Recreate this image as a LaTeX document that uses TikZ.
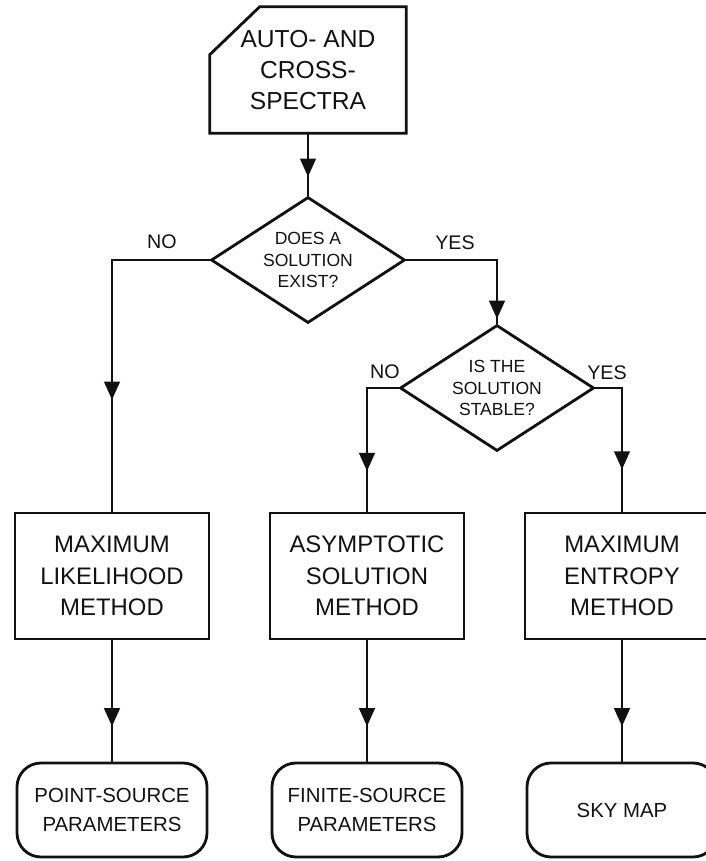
\documentclass[tikz,border=0pt]{standalone}
\usepackage{fontspec}
\setmainfont{Liberation Sans}
\usetikzlibrary{shapes.geometric, arrows.meta, decorations.markings}
\definecolor{chartink}{HTML}{111111}
\tikzset{
  flow line/.style={draw=chartink, line width=2pt},
  mid arrow/.style={postaction={decorate, decoration={markings,
    mark=at position #1 with {\arrow{Triangle[length=13pt, width=11pt]}}}}},
  input card/.style={minimum width=4.9cm, minimum height=3.15cm,
    align=center, text=chartink, font=\fontsize{17.5}{22}\selectfont},
  decision/.style={diamond, aspect=1.54, draw=chartink, line width=2pt,
    minimum width=4.85cm, minimum height=3.15cm, inner sep=0pt,
    align=center, text=chartink, font=\fontsize{12.5}{15.5}\selectfont},
  method box/.style={draw=chartink, line width=2pt, minimum width=4.85cm,
    minimum height=3.15cm, inner sep=0pt, align=center, text=chartink,
    font=\fontsize{17}{22.5}\selectfont},
  result box/.style={draw=chartink, line width=2pt, rounded corners=0.6cm,
    minimum width=4.75cm, minimum height=2.35cm, inner sep=0pt,
    align=center, text=chartink, font=\fontsize{14.5}{21}\selectfont},
  branch label/.style={font=\fontsize{14}{16}\selectfont, text=chartink},
}

\begin{document}
\begin{tikzpicture}[x=1cm, y=1cm]
  \useasboundingbox (0,0) rectangle (17.625,-21.525);

  % input and the two tests
  \node[input card] (spectra) at (7.7,-1.75) {AUTO- AND\\CROSS-\\SPECTRA};
  \draw[flow line] ([xshift=1.25cm]spectra.north west) -- (spectra.north east)
    -- (spectra.south east) -- (spectra.south west)
    -- ([yshift=-1.2cm]spectra.north west) -- cycle;
  \node[decision] (exists) at (7.7,-6.5) {DOES A\\SOLUTION\\EXIST?};
  \node[decision] (stable) at (12.425,-9.7) {IS THE\\SOLUTION\\STABLE?};

  % methods
  \node[method box] (mlm) at (2.8,-14.4) {MAXIMUM\\LIKELIHOOD\\METHOD};
  \node[method box] (asm) at (9.175,-14.4) {ASYMPTOTIC\\SOLUTION\\METHOD};
  \node[method box] (mem) at (15.55,-14.4) {MAXIMUM\\ENTROPY\\METHOD};

  % results
  \node[result box] (point) at (2.8,-20.25) {POINT-SOURCE\\PARAMETERS};
  \node[result box] (finite) at (9.175,-20.25) {FINITE-SOURCE\\PARAMETERS};
  \node[result box] (skymap) at (15.55,-20.25) {SKY MAP};

  \draw[flow line, mid arrow=0.7] (spectra.south) -- (exists.north);
  \draw[flow line, mid arrow=0.68] (exists.west) -| (mlm.north);
  \draw[flow line, mid arrow=0.97] (exists.east) -| (stable.north);
  \draw[flow line, mid arrow=0.74] (stable.west) -| (asm.north);
  \draw[flow line, mid arrow=0.72] (stable.east) -| (mem.north);
  \draw[flow line, mid arrow=0.71] (mlm.south) -- (point.north);
  \draw[flow line, mid arrow=0.71] (asm.south) -- (finite.north);
  \draw[flow line, mid arrow=0.71] (mem.south) -- (skymap.north);

  \node[branch label] (no1) at (4.05,-6.05) {NO};
  \node[branch label] (yes1) at (11.375,-6.075) {YES};
  \node[branch label] (no2) at (9.625,-9.3) {NO};
  \node[branch label] (yes2) at (15.175,-9.325) {YES};
\end{tikzpicture}
\end{document}
